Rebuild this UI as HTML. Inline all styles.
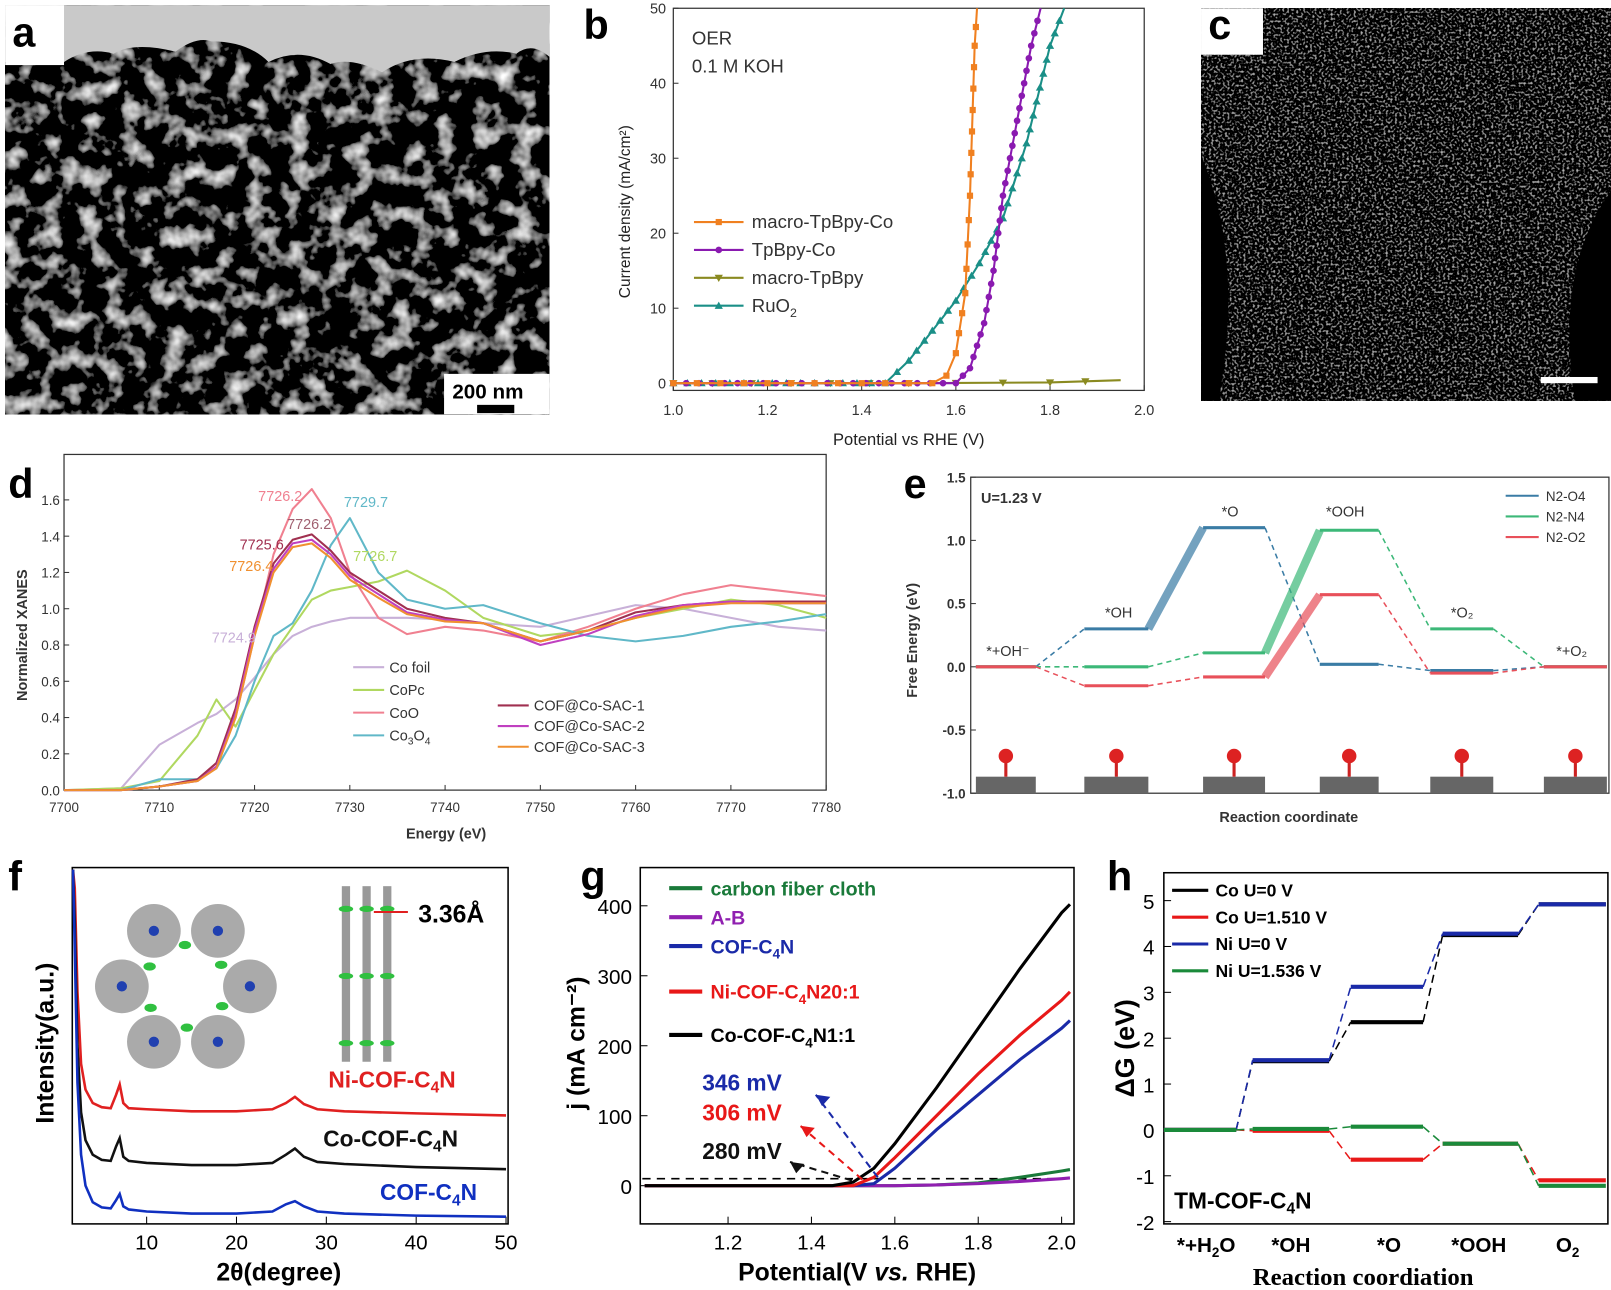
<!DOCTYPE html>
<html><head><meta charset="utf-8"><style>
body{margin:0;background:#fff;width:1611px;height:1290px;overflow:hidden;font-family:"Liberation Sans",sans-serif}
svg{position:absolute;left:0;top:0}
</style></head><body>
<svg id="s" width="1611" height="1290" viewBox="0 0 1560 1249" preserveAspectRatio="none" xmlns="http://www.w3.org/2000/svg" font-family="Liberation Sans, sans-serif">
<defs>
<filter id="texA" x="0" y="0" width="100%" height="100%"><feTurbulence type="fractalNoise" baseFrequency="0.05" numOctaves="3" seed="5" result="n"/><feColorMatrix in="n" type="matrix" values="2.4 0 0 0 -1.2 2.4 0 0 0 -1.2 2.4 0 0 0 -1.2 0 0 0 0 1"/></filter>
<filter id="texC" x="0" y="0" width="100%" height="100%"><feTurbulence type="fractalNoise" baseFrequency="0.45" numOctaves="1" seed="8" result="n"/><feColorMatrix in="n" type="matrix" values="1.6 0 0 0 -0.85 1.6 0 0 0 -0.85 1.6 0 0 0 -0.85 0 0 0 0 1"/></filter>
</defs>
<g>
<rect x="5" y="5" width="527" height="396" fill="#333" filter="url(#texA)"/>
<path d="M5 5 H532 V55 Q515 40 500 52 Q470 45 440 60 Q400 50 370 70 Q340 55 320 62 Q290 45 260 60 Q240 40 205 40 Q190 35 170 50 Q130 40 110 52 Q85 45 62 60 L5 60 Z" fill="#c9c9c9"/>
<rect x="5" y="5" width="57" height="58" fill="#fff"/>
<text x="12" y="45" font-size="40" font-weight="bold">a</text>
<rect x="430" y="362" width="102" height="39" fill="#fff"/>
<text x="438" y="386" font-size="20" font-weight="bold">200 nm</text>
<rect x="462" y="392" width="36" height="8" fill="#000"/>
</g>
<g>
<rect x="1163" y="8" width="397" height="380" fill="#222" filter="url(#texC)"/>
<path d="M1163 150 Q1205 250 1180 388 L1163 388 Z" fill="#000"/>
<path d="M1560 185 Q1505 260 1525 388 L1560 388 Z" fill="#000"/>
<rect x="1163" y="8" width="60" height="45" fill="#fff"/>
<text x="1170" y="38" font-size="40" font-weight="bold">c</text>
<rect x="1492" y="365" width="55" height="6" fill="#fff"/>
</g>
<text x="565" y="38" font-size="40" font-weight="bold">b</text>
<text x="8" y="482" font-size="40" font-weight="bold">d</text>
<text x="875" y="482" font-size="40" font-weight="bold">e</text>
<text x="8" y="862" font-size="40" font-weight="bold">f</text>
<text x="562" y="862" font-size="40" font-weight="bold">g</text>
<text x="1072" y="862" font-size="40" font-weight="bold">h</text>
<g id="gb"></g><g id="gd"></g><g id="ge"></g><g id="gf"></g><g id="gg"></g><g id="gh"></g>
</svg>
<script>
// ---- data ----
const bTicksX=[1.0,1.2,1.4,1.6,1.8,2.0];
const bTicksY=[0,10,20,30,40,50];
const bNames=["macro-TpBpy-Co","TpBpy-Co","macro-TpBpy","RuO2"];
const bOrangeX=[1.0,1.3,1.55,1.58,1.6,1.62,1.63,1.64,1.645];
const bOrangeY=[0,0,0,1,4,12,25,45,50];
const bPurpleX=[1.0,1.3,1.6,1.63,1.66,1.68,1.7,1.73,1.76,1.78];
const bPurpleY=[0,0,0,2,8,15,25,35,45,50];
const bGreenX=[1.0,1.5,1.8,1.95];
const bGreenY=[0,0,0.1,0.4];
const bTealX=[1.0,1.45,1.5,1.55,1.6,1.65,1.7,1.75,1.8,1.83];
const bTealY=[0,0,3,7,11,16,22,32,45,50];

const dTicksX=[7700,7710,7720,7730,7740,7750,7760,7770,7780];
const dTicksY=[0,0.2,0.4,0.6,0.8,1.0,1.2,1.4,1.6];
const dEx=[7700,7706,7710,7714,7716,7718,7720,7722,7724,7726,7728,7730,7733,7736,7740,7744,7750,7755,7760,7765,7770,7775,7780];
const dCoFoil=[0,0.01,0.25,0.37,0.42,0.5,0.62,0.75,0.85,0.9,0.93,0.95,0.95,0.95,0.94,0.92,0.9,0.96,1.02,1.0,0.95,0.9,0.88];
const dCoPc=[0,0.01,0.05,0.3,0.5,0.35,0.55,0.75,0.9,1.05,1.1,1.12,1.15,1.21,1.1,0.95,0.85,0.88,0.95,1.0,1.05,1.02,0.95];
const dCoO=[0,0,0.02,0.05,0.15,0.4,0.85,1.3,1.55,1.66,1.5,1.2,0.95,0.86,0.9,0.88,0.82,0.9,1.0,1.08,1.13,1.1,1.07];
const dCo3O4=[0,0,0.06,0.06,0.12,0.3,0.6,0.85,0.92,1.1,1.35,1.5,1.2,1.05,1.0,1.02,0.92,0.85,0.82,0.85,0.9,0.93,0.97];
const dSac1=[0,0,0.02,0.06,0.15,0.45,0.9,1.25,1.38,1.41,1.32,1.2,1.1,1.0,0.95,0.92,0.82,0.88,0.98,1.02,1.04,1.04,1.04];
const dSac2=[0,0,0.02,0.05,0.13,0.42,0.88,1.22,1.36,1.38,1.3,1.18,1.08,0.98,0.94,0.92,0.8,0.86,0.96,1.02,1.04,1.03,1.03];
const dSac3=[0,0,0.02,0.05,0.12,0.4,0.85,1.2,1.34,1.36,1.28,1.16,1.06,0.97,0.93,0.92,0.82,0.88,0.95,1.01,1.03,1.03,1.03];

const eTicksY=[-1.0,-0.5,0.0,0.5,1.0,1.5];
const eSteps=["*+OH-","*OH","*O","*OOH","*O2","*+O2"];
const eN2O4=[0,0.3,1.1,0.02,-0.03,0];
const eN2N4=[0,0,0.11,1.08,0.3,0];
const eN2O2=[0,-0.15,-0.08,0.57,-0.05,0];

const fTicksX=[10,20,30,40,50];
const fX=[1.8,2.0,2.3,2.7,3.2,4,5,6,6.6,7,7.4,8,10,15,20,24,25.5,26.5,27.5,29,32,40,50];
const fRed=[340,220,120,50,25,12,8,7,20,30,12,7,6,4,4,6,12,18,11,6,4,2,0];
const fBlack=[360,240,120,55,28,14,9,8,22,30,12,8,6,4,4,6,14,20,12,7,5,2,0];
const fBlue=[380,260,130,60,30,14,9,8,16,22,10,7,5,3,3,5,12,15,10,5,3,1,0];

const gTicksX=[1.2,1.4,1.6,1.8,2.0];
const gTicksY=[0,100,200,300,400];
const gX=[1.0,1.45,1.5,1.55,1.6,1.7,1.8,1.9,2.0,2.02];
const gBlack=[0,0,5,25,60,140,225,310,390,402];
const gRed=[0,0,0,12,40,100,160,215,265,277];
const gBlue=[0,0,0,3,25,80,130,180,225,236];
const gGreen=[0,0,0,0,0,1,4,12,21,23];
const gPurple=[0,0,0,0,0,1,3,6,10,11];

const hTicksY=[-2,-1,0,1,2,3,4,5];
const hSteps=["*+H2O","*OH","*O","*OOH","O2"];
const hCo0=[0,1.5,2.35,4.25,4.92];
const hCoU=[0,-0.02,-0.65,-0.3,-1.1];
const hNi0=[0,1.52,3.12,4.28,4.92];
const hNiU=[0,0.02,0.07,-0.3,-1.22];

const NS="http://www.w3.org/2000/svg";
function mk(p,tag,at,txt){const e=document.createElementNS(NS,tag);for(const k in at)e.setAttribute(k,at[k]);if(txt!==undefined)e.textContent=txt;p.appendChild(e);return e;}
function lin(d0,d1,p0,p1){return v=>p0+(v-d0)*(p1-p0)/(d1-d0);}
function pathOf(xs,ys,sx,sy){return xs.map((x,i)=>(i?'L':'M')+sx(x).toFixed(1)+' '+sy(ys[i]).toFixed(1)).join(' ');}
function marker(g,m,X,Y,c){
  if(m==='sq')mk(g,'rect',{x:X-3,y:Y-3,width:6,height:6,fill:c});
  else if(m==='circ')mk(g,'circle',{cx:X,cy:Y,r:3.2,fill:c});
  else if(m==='tri')mk(g,'path',{d:`M${X} ${Y-4}L${X+4} ${Y+3}L${X-4} ${Y+3}Z`,fill:c});
  else mk(g,'path',{d:`M${X} ${Y+4}L${X+4} ${Y-3}L${X-4} ${Y-3}Z`,fill:c});}

// ---- panel b ----
(function(){
const g=document.getElementById('gb');
const sx=lin(1.0,2.0,652,1108), sy=lin(0,50,371,8);
let r=mk(g,'rect',{x:652,y:8,width:456,height:370,fill:'none',stroke:'#333','stroke-width':1.2});


bTicksX.forEach(v=>{mk(g,'line',{x1:sx(v),x2:sx(v),y1:378,y2:373,stroke:'#333'});
 let t=mk(g,'text',{x:sx(v),y:402,'font-size':14,'text-anchor':'middle',fill:'#333'},v.toFixed(1));
 
 });
bTicksY.forEach(v=>{mk(g,'line',{x1:652,x2:657,y1:sy(v),y2:sy(v),stroke:'#333'});
 let t=mk(g,'text',{x:645,y:sy(v)+5,'font-size':14,'text-anchor':'end',fill:'#333'},v);
 
 });
let xt=mk(g,'text',{x:880,y:431,'font-size':16,'text-anchor':'middle',fill:'#222'},'Potential vs RHE (V)');


let yt=mk(g,'text',{x:0,y:0,'font-size':15,'text-anchor':'middle',fill:'#222',transform:'translate(610 205) rotate(-90)'},'Current density (mA/cm²)');


mk(g,'text',{x:670,y:43,'font-size':18,fill:'#333'},'OER');
mk(g,'text',{x:670,y:70,'font-size':18,fill:'#333'},'0.1 M KOH');
const series=[[bGreenX,bGreenY,'#8a8a20','tri-down',40],[bTealX,bTealY,'#1a8f87','tri',14],[bPurpleX,bPurpleY,'#8a1ab0','circ',12],[bOrangeX,bOrangeY,'#f08020','sq',22]];
series.forEach(([xs,ys,c,m,step])=>{
 let p=mk(g,'path',{d:pathOf(xs,ys,sx,sy),fill:'none',stroke:c,'stroke-width':2});
 
 
 for(let i=0;i<xs.length-1;i++){const dist=Math.hypot(sx(xs[i+1])-sx(xs[i]),sy(ys[i+1])-sy(ys[i]));const n=Math.max(1,Math.round(dist/step));
  for(let j=0;j<n;j++){const x=xs[i]+(xs[i+1]-xs[i])*j/n,y=ys[i]+(ys[i+1]-ys[i])*j/n;marker(g,m,sx(x),sy(y),c);}}
});
const lc=['#f08020','#8a1ab0','#8a8a20','#1a8f87'];const lm=['sq','circ','tri-down','tri'];
bNames.forEach((n,i)=>{const y=215+i*27;
 mk(g,'line',{x1:672,x2:720,y1:y,y2:y,stroke:lc[i],'stroke-width':2});
 marker(g,lm[i],696,y,lc[i]);
 let t=mk(g,'text',{x:728,y:y+6,'font-size':18,fill:'#333'},n==='RuO2'?'RuO':n);
 if(n==='RuO2')mk(t,'tspan',{'font-size':12,dy:5},'2');
 
 });
})();

// ---- panel d ----
(function(){
const g=document.getElementById('gd');
const sx=lin(7700,7780,62,800), sy=lin(0,1.6,765,484);
mk(g,'rect',{x:62,y:440,width:738,height:325,fill:'none',stroke:'#333','stroke-width':1.2});
dTicksX.forEach(v=>{mk(g,'line',{x1:sx(v),x2:sx(v),y1:765,y2:760,stroke:'#333'});
 let t=mk(g,'text',{x:sx(v),y:786,'font-size':13,'text-anchor':'middle',fill:'#333'},v);
 
 });
dTicksY.forEach(v=>{mk(g,'line',{x1:62,x2:67,y1:sy(v),y2:sy(v),stroke:'#333'});
 let t=mk(g,'text',{x:58,y:sy(v)+5,'font-size':13,'text-anchor':'end',fill:'#333'},v.toFixed(1));
 
 });
let xt=mk(g,'text',{x:432,y:812,'font-size':14,'font-weight':'bold','text-anchor':'middle',fill:'#333'},'Energy (eV)');


let yt=mk(g,'text',{x:0,y:0,'font-size':14,'font-weight':'bold','text-anchor':'middle',fill:'#333',transform:'translate(26 615) rotate(-90)'},'Normalized XANES');


const S=[[dCoFoil,'#c8b0d8','Co foil'],[dCoPc,'#b0d860','CoPc'],[dCoO,'#f08090','CoO'],[dCo3O4,'#60b8c8','Co3O4'],[dSac1,'#a03050','COF@Co-SAC-1'],[dSac2,'#c040c0','COF@Co-SAC-2'],[dSac3,'#f09030','COF@Co-SAC-3']];
S.forEach(([ys,c,n],i)=>{
 let p=mk(g,'path',{d:pathOf(dEx,ys,sx,sy),fill:'none',stroke:c,'stroke-width':2,'stroke-linejoin':'round'});
 
 
 const lx=i<4?342:482, ly=i<4?646+i*22:683+(i-4)*20;
 mk(g,'line',{x1:lx,x2:lx+30,y1:ly,y2:ly,stroke:c,'stroke-width':2});
 let t=mk(g,'text',{x:lx+35,y:ly+5,'font-size':14,fill:'#333'},n==='Co3O4'?'Co':n);
 if(n==='Co3O4'){mk(t,'tspan',{'font-size':10,dy:4},'3');mk(t,'tspan',{'font-size':14,dy:-4},'O');mk(t,'tspan',{'font-size':10,dy:4},'4');}
 
 
});
[['7726.2',250,485,'#f08090'],['7729.7',333,491,'#60b8c8'],['7726.2',278,512,'#a06070'],['7725.6',232,532,'#a03050'],['7726.7',342,543,'#b0d860'],['7726.4',222,553,'#f09030'],['7724.9',205,622,'#c8b0d8']].forEach(a=>mk(g,'text',{x:a[1],y:a[2],'font-size':14,fill:a[3]},a[0]));
})();

// ---- panel e ----
(function(){
const g=document.getElementById('ge');
const sy=lin(-1,1.5,768,462);
const px=[[945,1003],[1050,1112],[1165,1225],[1278,1335],[1385,1446],[1495,1556]];
mk(g,'rect',{x:940,y:462,width:618,height:306,fill:'none',stroke:'#333','stroke-width':1.2});
eTicksY.forEach(v=>{mk(g,'line',{x1:940,x2:945,y1:sy(v),y2:sy(v),stroke:'#333'});
 let t=mk(g,'text',{x:935,y:sy(v)+5,'font-size':13,'font-weight':'bold','text-anchor':'end',fill:'#333'},v.toFixed(1));
 
 });
let xt=mk(g,'text',{x:1248,y:796,'font-size':14,'font-weight':'bold','text-anchor':'middle',fill:'#333'},'Reaction coordinate');


let yt=mk(g,'text',{x:0,y:0,'font-size':14,'font-weight':'bold','text-anchor':'middle',fill:'#333',transform:'translate(888 620) rotate(-90)'},'Free Energy (eV)');


mk(g,'text',{x:950,y:487,'font-size':14,'font-weight':'bold',fill:'#333'},'U=1.23 V');
const S=[[eN2O4,'#3a7ca5','N2-O4'],[eN2N4,'#3cb878','N2-N4'],[eN2O2,'#e8505a','N2-O2']];
S.forEach(([ys,c,n],k)=>{
 ys.forEach((v,i)=>{let l=mk(g,'line',{x1:px[i][0],x2:px[i][1],y1:sy(v),y2:sy(v),stroke:c,'stroke-width':3});
  
  
  if(i<ys.length-1){const up=ys[i+1]-v>0.5;mk(g,'line',{x1:px[i][1],x2:px[i+1][0],y1:sy(v),y2:sy(ys[i+1]),stroke:c,'stroke-width':up?8:1.5,'stroke-dasharray':up?'':'5 4',opacity:up?0.7:1});}});
 mk(g,'line',{x1:1458,x2:1490,y1:480+k*20,y2:480+k*20,stroke:c,'stroke-width':2});
 let t=mk(g,'text',{x:1497,y:485+k*20,'font-size':13,fill:'#333'},n);
 
 
});
[['*+OH⁻',955,635],['*OH',1070,598],['*O',1183,500],['*OOH',1284,500],['*O₂',1405,598],['*+O₂',1507,635]].forEach(a=>mk(g,'text',{x:a[1],y:a[2],'font-size':14,fill:'#333'},a[0]));
px.forEach(p=>{mk(g,'rect',{x:p[0],y:752,width:p[1]-p[0],height:16,fill:'#666'});
 const c=(p[0]+p[1])/2;mk(g,'line',{x1:c,x2:c,y1:752,y2:735,stroke:'#c22','stroke-width':3});mk(g,'circle',{cx:c,cy:732,r:7,fill:'#d22'});});
})();

// ---- panel f ----
(function(){
const g=document.getElementById('gf');
const sx=lin(10,50,142,490);
mk(g,'rect',{x:70,y:840,width:422,height:345,fill:'none',stroke:'#000','stroke-width':1.5});
fTicksX.forEach(v=>{mk(g,'line',{x1:sx(v),x2:sx(v),y1:1185,y2:1178,stroke:'#000'});
 let t=mk(g,'text',{x:sx(v),y:1210,'font-size':20,'text-anchor':'middle'},v);
 
 });
let xt=mk(g,'text',{x:270,y:1240,'font-size':24,'font-weight':'bold','text-anchor':'middle'},'2θ(degree)');


let yt=mk(g,'text',{x:0,y:0,'font-size':24,'font-weight':'bold','text-anchor':'middle',transform:'translate(52 1010) rotate(-90)'},'Intensity(a.u.)');


const S=[[fRed,'#e02020',1080],[fBlack,'#111',1132],[fBlue,'#1030c0',1178]];
S.forEach(([ys,c,b])=>{const sy=v=>Math.max(842,b-v);
 let p=mk(g,'path',{d:pathOf(fX,ys,sx,sy),fill:'none',stroke:c,'stroke-width':2.5});
 
 });
[['Ni-COF-C',4,'#e02020',318,1053],['Co-COF-C',4,'#111',313,1110],['COF-C',4,'#1030c0',368,1162]].forEach(a=>{let t=mk(g,'text',{x:a[3],y:a[4],'font-size':22,'font-weight':'bold',fill:a[2]},a[0]);mk(t,'tspan',{'font-size':15,dy:5},'4');mk(t,'tspan',{dy:-5},'N');
 
 });
const ins=mk(g,'g',{});
for(let i=0;i<6;i++){const a=i*Math.PI/3,cx=180+62*Math.cos(a),cy=955+62*Math.sin(a);mk(ins,'circle',{cx:cx,cy:cy,r:26,fill:'#aaa'});mk(ins,'circle',{cx:cx,cy:cy,r:5,fill:'#2040b0'});}
mk(ins,'circle',{cx:180,cy:955,r:25,fill:'#fff'});
for(let i=0;i<6;i++){const a=i*Math.PI/3+0.5;mk(ins,'ellipse',{cx:180+40*Math.cos(a),cy:955+40*Math.sin(a),rx:6,ry:4,fill:'#30c040'});}
[335,355,375].forEach(x=>{mk(ins,'rect',{x:x-4,y:858,width:8,height:170,fill:'#999'});[880,945,1010].forEach(y=>mk(ins,'ellipse',{cx:x,cy:y,rx:7,ry:3,fill:'#30c040'}));});
mk(g,'line',{x1:362,x2:395,y1:883,y2:883,stroke:'#e02020','stroke-width':2});
mk(g,'text',{x:405,y:893,'font-size':24,'font-weight':'bold'},'3.36Å');
})();

// ---- panel g ----
(function(){
const g=document.getElementById('gg');
const sx=lin(1.2,2.0,705,1028), sy=lin(0,400,1148,877);
mk(g,'rect',{x:620,y:840,width:420,height:345,fill:'none',stroke:'#000','stroke-width':1.5});
gTicksX.forEach(v=>{mk(g,'line',{x1:sx(v),x2:sx(v),y1:1185,y2:1178,stroke:'#000'});
 let t=mk(g,'text',{x:sx(v),y:1210,'font-size':20,'text-anchor':'middle'},v.toFixed(1));
 
 });
gTicksY.forEach(v=>{mk(g,'line',{x1:620,x2:627,y1:sy(v),y2:sy(v),stroke:'#000'});
 let t=mk(g,'text',{x:612,y:sy(v)+8,'font-size':20,'text-anchor':'end'},v);
 
 });
let xt=mk(g,'text',{x:830,y:1240,'font-size':24,'font-weight':'bold','text-anchor':'middle'},'Potential(V ');
mk(xt,'tspan',{'font-style':'italic'},'vs.');mk(xt,'tspan',{},' RHE)');


let yt=mk(g,'text',{x:0,y:0,'font-size':24,'font-weight':'bold','text-anchor':'middle',transform:'translate(566 1010) rotate(-90)'},'j (mA cm⁻²)');


mk(g,'line',{x1:622,x2:1035,y1:sy(10),y2:sy(10),stroke:'#000','stroke-width':1.5,'stroke-dasharray':'8 6'});
const S=[[gGreen,'#1a7a3a','carbon fiber cloth'],[gPurple,'#9020b0','A-B'],[gBlue,'#1a2aa8','COF-C4N'],[gRed,'#e81818','Ni-COF-C4N20:1'],[gBlack,'#000','Co-COF-C4N1:1']];
const ly=[860,888,916,960,1002];
S.forEach(([ys,c,n],i)=>{
 let p=mk(g,'path',{d:pathOf(gX,ys,sx,sy),fill:'none',stroke:c,'stroke-width':3});
 
 
 mk(g,'line',{x1:648,x2:680,y1:ly[i],y2:ly[i],stroke:c,'stroke-width':4});
 const parts=n.split('C4N');
 let t=mk(g,'text',{x:688,y:ly[i]+7,'font-size':19,'font-weight':'bold',fill:c},parts[0]+(parts.length>1?'C':''));
 if(parts.length>1){mk(t,'tspan',{'font-size':13,dy:5},'4');mk(t,'tspan',{dy:-5},'N'+parts[1]);}
 
 
});
[['346 mV','#1a2aa8',680,1056,[790,1060,850,1140]],['306 mV','#e81818',680,1085,[775,1090,835,1142]],['280 mV','#111',680,1122,[765,1125,825,1143]]].forEach(a=>{
 mk(g,'text',{x:a[2],y:a[3],'font-size':22,'font-weight':'bold',fill:a[1]},a[0]);
 mk(g,'line',{x1:a[4][2],y1:a[4][3],x2:a[4][0],y2:a[4][1],stroke:a[1],'stroke-width':2,'stroke-dasharray':'7 5'});
 mk(g,'path',{d:`M${a[4][0]} ${a[4][1]} l14 2 l-8 9 Z`,fill:a[1]});});
})();

// ---- panel h ----
(function(){
const g=document.getElementById('gh');
const sy=lin(0,5,1094,872);
const px=[[1127,1197],[1213,1287],[1308,1378],[1397,1470],[1490,1555]];
const xc=[1168,1250,1345,1432,1518];
mk(g,'rect',{x:1127,y:845,width:430,height:340,fill:'none',stroke:'#000','stroke-width':1.5});
hTicksY.forEach(v=>{mk(g,'line',{x1:1127,x2:1134,y1:sy(v),y2:sy(v),stroke:'#000'});
 let t=mk(g,'text',{x:1118,y:sy(v)+8,'font-size':20,'text-anchor':'end'},v);
 
 });
hSteps.forEach((s,i)=>{let t=mk(g,'text',{x:xc[i],y:1212,'font-size':20,'font-weight':'bold','text-anchor':'middle'},s==='*+H2O'?'*+H':s==='O2'?'O':s);
 if(s==='*+H2O'){mk(t,'tspan',{'font-size':13,dy:5},'2');mk(t,'tspan',{dy:-5},'O');}
 if(s==='O2'){mk(t,'tspan',{'font-size':13,dy:5},'2');}
 
 });
let xt=mk(g,'text',{x:1320,y:1244,'font-size':24,'font-weight':'bold','text-anchor':'middle','font-family':'Liberation Serif, serif'},'Reaction coordiation');


let yt=mk(g,'text',{x:0,y:0,'font-size':26,'font-weight':'bold','text-anchor':'middle',transform:'translate(1098 1015) rotate(-90)'},'ΔG (eV)');


const S=[[hCo0,'#000','Co U=0 V'],[hCoU,'#e81818','Co U=1.510 V'],[hNi0,'#1a2aa8','Ni  U=0 V'],[hNiU,'#1a8a3a','Ni  U=1.536 V']];
S.forEach(([ys,c,n],k)=>{
 ys.forEach((v,i)=>{let l=mk(g,'line',{x1:px[i][0],x2:px[i][1],y1:sy(v),y2:sy(v),stroke:c,'stroke-width':4});
  
  
  if(i<ys.length-1)mk(g,'line',{x1:px[i][1],x2:px[i+1][0],y1:sy(v),y2:sy(ys[i+1]),stroke:c,'stroke-width':1.5,'stroke-dasharray':'8 5'});});
 const y=862+k*26;
 mk(g,'line',{x1:1135,x2:1170,y1:y,y2:y,stroke:c,'stroke-width':3});
 let t=mk(g,'text',{x:1177,y:y+6,'font-size':17,'font-weight':'bold'},n);
 
 
});
let lab=mk(g,'text',{x:1137,y:1170,'font-size':22,'font-weight':'bold'},'TM-COF-C');
mk(lab,'tspan',{'font-size':15,dy:5},'4');mk(lab,'tspan',{dy:-5},'N');
})();
</script>
</body></html>
